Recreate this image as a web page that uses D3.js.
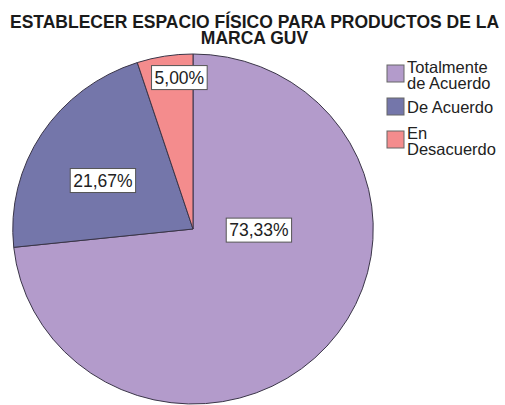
<!DOCTYPE html>
<html>
<head>
<meta charset="utf-8">
<script src="https://cdn.jsdelivr.net/npm/d3@7"></script>
<style>
  html, body { margin: 0; padding: 0; background: #fff; }
  svg { display: block; font-family: "Liberation Sans", Arial, sans-serif; }
</style>
</head>
<body>
<svg id="chart" width="505" height="405"></svg>
<script>
// Survey answers and their shares (%)
const categories = ["Totalmente de Acuerdo", "De Acuerdo", "En Desacuerdo"];
const legendLines = [["Totalmente", "de Acuerdo"], ["De Acuerdo"], ["En", "Desacuerdo"]];
const shares = [73.33, 21.67, 5.00];
const sliceColors = ["#b39bcb", "#7476aa", "#f48c8d"];
const titleLines = ["ESTABLECER ESPACIO FÍSICO PARA PRODUCTOS DE LA", "MARCA GUV"];

// Where each value label sits: polar offset from the pie centre (degrees from 12 o'clock, px)
const labelSpots = [[91, 64], [299, 100], [355, 152]];

const svg = d3.select("#chart");
const W = 505;

// Title
svg.append("g").selectAll("text")
  .data(titleLines)
  .join("text")
  .attr("x", W / 2 + 2)
  .attr("y", (d, i) => 28 + i * 15.5)
  .attr("text-anchor", "middle")
  .attr("font-weight", "bold")
  .attr("font-size", 17.5)
  .attr("fill", "#1a1a1a")
  .text(d => d);

// Pie
const cx = 193, cy = 229, R = 175, sx = 1.03;
const pie = d3.pie().sort(null).value(d => d).startAngle(0).endAngle(2 * Math.PI);
const arcs = pie(shares);
const arc = d3.arc().innerRadius(0).outerRadius(R);

const g = svg.append("g").attr("transform", `translate(${cx},${cy}) scale(${sx},1)`);
g.selectAll("path")
  .data(arcs)
  .join("path")
  .attr("d", arc)
  .attr("fill", (d, i) => sliceColors[i])
  .attr("stroke", "#3a3548")
  .attr("stroke-width", 1)
  .attr("vector-effect", "non-scaling-stroke");

// Value labels in boxes
const fmt = v => v.toFixed(2).replace(".", ",") + "%";
const lab = svg.append("g");
arcs.forEach((a, i) => {
  const [ang, rr] = labelSpots[i];
  const t = ang * Math.PI / 180;
  const x = cx + sx * rr * Math.sin(t);
  const y = cy - rr * Math.cos(t);
  const txt = lab.append("text")
    .attr("x", x).attr("y", y + 6)
    .attr("text-anchor", "middle")
    .attr("font-size", 17.5)
    .attr("fill", "#222")
    .text(fmt(a.data));
  const bb = txt.node().getBBox();
  lab.insert("rect", "text")
    .attr("x", bb.x - 3).attr("y", y - 12)
    .attr("width", bb.width + 6).attr("height", 24)
    .attr("fill", "#fff")
    .attr("stroke", "#555")
    .attr("stroke-width", 1);
});

// Legend
const legend = svg.append("g").attr("transform", "translate(387,65)");
const itemTops = [0, 33, 66];
legendLines.forEach((lines, i) => {
  const item = legend.append("g").attr("transform", `translate(0,${itemTops[i]})`);
  item.append("rect")
    .attr("x", 0).attr("y", 0)
    .attr("width", 17).attr("height", 17)
    .attr("fill", sliceColors[i])
    .attr("stroke", "#666")
    .attr("stroke-width", 1);
  item.selectAll("text")
    .data(lines)
    .join("text")
    .attr("x", 20)
    .attr("y", (d, j) => (lines.length === 2 ? 8 : 15) + j * 16)
    .attr("font-size", 16.5)
    .attr("fill", "#222")
    .text(d => d);
});
</script>
</body>
</html>
